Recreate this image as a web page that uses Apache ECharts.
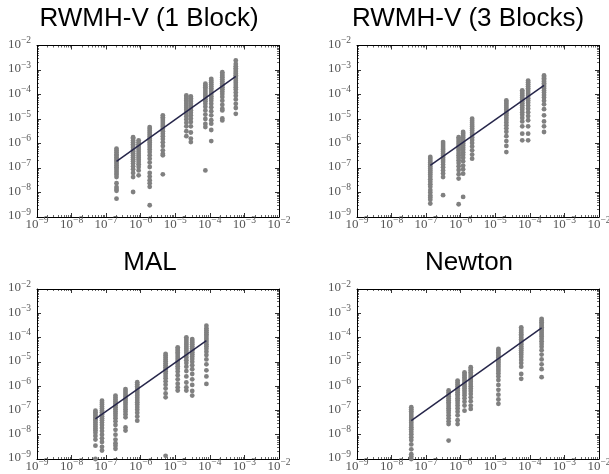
<!DOCTYPE html>
<html><head><meta charset="utf-8">
<script src="https://cdn.jsdelivr.net/npm/echarts@6/dist/echarts.min.js"></script>
<style>html,body{margin:0;padding:0;background:#fff}#c{width:609px;height:474px}</style>
</head><body><div id="c"></div>
<script>
// Panel titles
const titles = ['RWMH-V (1 Block)', 'RWMH-V (3 Blocks)', 'MAL', 'Newton'];
// Axis range (log10 exponents) and tick exponents
const axisMinExp = -9, axisMaxExp = -2;
const tickExps = [-9, -8, -7, -6, -5, -4, -3, -2];

// Values are stored as log10 exponents (x column positions, y values per column)
// Panel 1: RWMH-V (1 Block)
const p1ColX = [-6.70, -6.22, -6.06, -5.74, -5.36, -4.68, -4.55, -4.13, -3.96, -3.64, -3.25];
const p1ColY = [
  [-6.21,-6.29,-6.36,-6.44,-6.5,-6.57,-6.63,-6.7,-6.76,-6.83,-6.9,-6.97,-7.04,-7.12,-7.2,-7.28,-7.37,-7.62,-7.78,-7.86,-7.93,-8.25],
  [-5.74,-5.8,-5.88,-5.95,-6.03,-6.1,-6.17,-6.25,-6.32,-6.4,-6.48,-6.56,-6.64,-6.72,-6.82,-6.93,-7.05,-7.2,-7.37,-7.98],
  [-5.87,-5.95,-6.03,-6.1,-6.18,-6.26,-6.34,-6.42,-6.5,-6.58,-6.66,-6.75,-6.85,-6.96,-7.1,-7.3],
  [-5.33,-5.4,-5.48,-5.56,-5.64,-5.72,-5.8,-5.88,-5.96,-6.05,-6.14,-6.24,-6.35,-6.48,-6.62,-6.78,-6.96,-7.2,-7.35,-7.5,-7.62,-7.77,-8.52],
  [-4.85,-4.93,-5.0,-5.08,-5.16,-5.24,-5.32,-5.4,-5.5,-5.6,-5.7,-5.82,-5.95,-6.1,-6.28,-6.42,-6.48,-7.26],
  [-4.04,-4.1,-4.17,-4.24,-4.31,-4.38,-4.46,-4.54,-4.62,-4.7,-4.8,-4.9,-5.02,-5.15,-5.3,-5.5,-5.7],
  [-4.08,-4.15,-4.22,-4.3,-4.38,-4.46,-4.55,-4.64,-4.74,-4.85,-4.98,-5.12,-5.3,-5.55,-5.8,-5.94],
  [-3.56,-3.63,-3.7,-3.78,-3.86,-3.94,-4.02,-4.1,-4.19,-4.28,-4.38,-4.5,-4.65,-4.82,-5.0,-5.2,-5.33,-7.1],
  [-3.36,-3.43,-3.5,-3.58,-3.66,-3.74,-3.82,-3.9,-3.98,-4.07,-4.16,-4.26,-4.38,-4.52,-4.68,-4.85,-5.05,-5.19,-5.45,-5.9],
  [-3.09,-3.16,-3.23,-3.3,-3.38,-3.46,-3.54,-3.62,-3.7,-3.79,-3.88,-3.98,-4.1,-4.25,-4.42,-4.58,-4.65,-4.98,-5.06],
  [-2.61,-2.75,-2.85,-2.93,-3.0,-3.07,-3.14,-3.21,-3.28,-3.36,-3.44,-3.52,-3.61,-3.7,-3.8,-3.92,-4.05,-4.2,-4.38,-4.55,-4.79]
];
const p1FitX = [-6.70, -3.25];
const p1FitY = [-6.73, -3.26];

// Panel 2: RWMH-V (3 Blocks)
const p2ColX = [-6.88, -6.51, -6.06, -5.93, -5.67, -4.68, -4.22, -4.05, -3.59];
const p2ColY = [
  [-6.55,-6.62,-6.7,-6.78,-6.86,-6.94,-7.02,-7.1,-7.18,-7.27,-7.36,-7.46,-7.56,-7.66,-7.77,-7.9,-8.0,-8.12,-8.2,-8.3,-8.45],
  [-5.94,-6.02,-6.1,-6.18,-6.26,-6.34,-6.42,-6.5,-6.58,-6.67,-6.76,-6.86,-6.97,-7.1,-7.22,-7.37,-8.11],
  [-5.74,-5.82,-5.9,-5.98,-6.06,-6.14,-6.22,-6.3,-6.39,-6.48,-6.58,-6.68,-6.8,-6.93,-7.08,-7.25,-7.43,-8.48],
  [-5.53,-5.6,-5.68,-5.76,-5.84,-5.92,-6.0,-6.08,-6.17,-6.26,-6.36,-6.46,-6.58,-6.72,-6.9,-7.05,-7.23,-8.18],
  [-4.99,-5.07,-5.15,-5.23,-5.31,-5.39,-5.47,-5.56,-5.65,-5.75,-5.86,-5.98,-6.12,-6.28,-6.45,-6.62],
  [-4.24,-4.31,-4.38,-4.46,-4.54,-4.62,-4.7,-4.78,-4.86,-4.95,-5.04,-5.14,-5.25,-5.38,-5.52,-5.7,-5.9,-6.1,-6.35],
  [-3.83,-3.9,-3.97,-4.04,-4.12,-4.2,-4.28,-4.36,-4.44,-4.53,-4.62,-4.72,-4.83,-4.96,-5.1,-5.3,-5.6,-5.87],
  [-3.43,-3.5,-3.58,-3.66,-3.74,-3.82,-3.9,-3.98,-4.06,-4.15,-4.24,-4.34,-4.45,-4.58,-4.72,-4.88,-5.05,-5.3,-5.6,-5.87],
  [-3.22,-3.28,-3.34,-3.4,-3.47,-3.54,-3.61,-3.68,-3.76,-3.84,-3.92,-4.02,-4.12,-4.25,-4.4,-4.6,-4.85,-5.1,-5.3,-5.53]
];
const p2FitX = [-6.88, -3.59];
const p2FitY = [-6.89, -3.63];

// Panel 3: MAL
const p3ColX = [-7.31, -7.12, -6.73, -6.44, -6.10, -5.28, -4.93, -4.68, -4.51, -4.10];
const p3ColY = [
  [-7.01,-7.08,-7.15,-7.22,-7.29,-7.36,-7.43,-7.5,-7.58,-7.66,-7.74,-7.82,-7.92,-8.05,-8.2,-8.45,-9.0],
  [-6.6,-6.68,-6.76,-6.84,-6.92,-7.0,-7.08,-7.16,-7.24,-7.32,-7.4,-7.5,-7.6,-7.72,-7.85,-8.0,-8.15,-8.3,-8.5,-8.65],
  [-6.39,-6.47,-6.55,-6.63,-6.71,-6.79,-6.87,-6.95,-7.04,-7.13,-7.22,-7.32,-7.45,-7.6,-7.8,-8.0,-8.2,-8.35,-8.45,-8.58],
  [-6.12,-6.2,-6.28,-6.36,-6.44,-6.52,-6.6,-6.68,-6.77,-6.86,-6.95,-7.05,-7.16,-7.28,-7.7,-7.83],
  [-5.84,-5.92,-6.0,-6.08,-6.16,-6.24,-6.32,-6.4,-6.48,-6.57,-6.66,-6.76,-6.86,-6.97,-7.1,-7.25,-7.42],
  [-4.67,-4.74,-4.82,-4.9,-4.98,-5.06,-5.14,-5.22,-5.3,-5.39,-5.48,-5.58,-5.68,-5.8,-5.94,-6.1,-6.3,-6.46,-8.87],
  [-4.4,-4.47,-4.54,-4.61,-4.68,-4.76,-4.84,-4.92,-5.0,-5.09,-5.18,-5.28,-5.4,-5.55,-5.72,-5.9,-6.05,-6.18],
  [-3.99,-4.06,-4.14,-4.22,-4.3,-4.38,-4.46,-4.54,-4.63,-4.72,-4.82,-4.93,-5.05,-5.2,-5.38,-5.6,-5.85,-6.05,-6.18],
  [-4.06,-4.13,-4.2,-4.28,-4.36,-4.44,-4.52,-4.6,-4.69,-4.78,-4.88,-5.0,-5.14,-5.3,-5.5,-5.72,-5.95,-6.2,-6.39],
  [-3.51,-3.62,-3.7,-3.78,-3.86,-3.94,-4.02,-4.1,-4.18,-4.27,-4.36,-4.46,-4.58,-4.72,-4.9,-5.1,-5.35,-5.6,-5.91]
];
const p3FitX = [-7.31, -4.10];
const p3FitY = [-7.35, -4.13];

// Panel 4: Newton
const p4ColX = [-7.43, -6.35, -6.09, -5.89, -5.71, -4.91, -4.25, -3.66];
const p4ColY = [
  [-6.87,-6.95,-7.03,-7.11,-7.19,-7.27,-7.35,-7.43,-7.51,-7.6,-7.69,-7.78,-7.88,-7.98,-8.1,-8.22,-8.4,-8.6,-8.8,-8.9,-9.0],
  [-6.18,-6.26,-6.34,-6.42,-6.5,-6.58,-6.66,-6.74,-6.82,-6.91,-7.0,-7.1,-7.2,-7.32,-7.45,-7.56,-8.24],
  [-5.77,-5.85,-5.93,-6.01,-6.09,-6.17,-6.25,-6.33,-6.41,-6.5,-6.59,-6.69,-6.8,-6.92,-7.05,-7.2,-7.4,-7.56],
  [-5.43,-5.5,-5.57,-5.64,-5.71,-5.78,-5.86,-5.94,-6.02,-6.1,-6.19,-6.28,-6.38,-6.5,-6.64,-6.8,-7.01],
  [-5.22,-5.29,-5.36,-5.43,-5.5,-5.58,-5.66,-5.74,-5.82,-5.91,-6.0,-6.1,-6.2,-6.32,-6.46,-6.62,-6.8,-6.94],
  [-4.47,-4.54,-4.61,-4.68,-4.75,-4.82,-4.89,-4.96,-5.04,-5.12,-5.2,-5.29,-5.38,-5.48,-5.6,-5.75,-5.95,-6.15,-6.35,-6.55,-6.73],
  [-3.58,-3.65,-3.72,-3.79,-3.86,-3.93,-4.0,-4.07,-4.14,-4.21,-4.28,-4.36,-4.44,-4.52,-4.61,-4.7,-4.8,-4.92,-5.05,-5.2,-5.5,-5.7],
  [-3.23,-3.3,-3.37,-3.44,-3.51,-3.58,-3.65,-3.72,-3.8,-3.88,-3.96,-4.05,-4.15,-4.26,-4.38,-4.52,-4.7,-4.9,-5.1,-5.3,-5.63]
];
const p4FitX = [-7.43, -3.66];
const p4FitY = [-7.42, -3.60];

const panels = [
  {colX: p1ColX, colY: p1ColY, fitX: p1FitX, fitY: p1FitY},
  {colX: p2ColX, colY: p2ColY, fitX: p2FitX, fitY: p2FitY},
  {colX: p3ColX, colY: p3ColY, fitX: p3FitX, fitY: p3FitY},
  {colX: p4ColX, colY: p4ColY, fitX: p4FitX, fitY: p4FitY}
];

// Layout (pixels)
const gridRects = [
  {left: 37, top: 45.5, width: 242, height: 171.5},
  {left: 357, top: 45.5, width: 242, height: 171.5},
  {left: 37, top: 289, width: 242, height: 170},
  {left: 357, top: 289, width: 242, height: 170}
];
const titlePos = [[149, 6], [468, 6], [150, 250], [469, 250]];

const pow10 = e => Math.pow(10, e);
const labelColor = '#555';
const rich = {
  b: {fontFamily: 'Liberation Serif', fontSize: 13, color: labelColor, lineHeight: 18},
  s: {fontFamily: 'Liberation Serif', fontSize: 9.5, color: labelColor, lineHeight: 10, verticalAlign: 'top'}
};
function fmt(v) {
  const e = Math.round(Math.log10(v));
  return '{b|10}{s|' + (e < 0 ? '\u2212' + (-e) : e) + '}';
}

function axisBase(showLabel, pos, isX) {
  return {
    type: 'log', logBase: 10, min: pow10(axisMinExp), max: pow10(axisMaxExp), interval: 1,
    position: pos,
    axisLine: {show: true, onZero: false, lineStyle: {color: '#000', width: 1}},
    axisTick: {show: true, inside: true, length: 4, lineStyle: {color: '#000', width: 0.8}},
    minorTick: {show: true, splitNumber: 9, length: 2, lineStyle: {color: '#000', width: 0.6}},
    splitLine: {show: false},
    axisLabel: showLabel ? (isX
      ? {show: true, formatter: fmt, rich: rich, margin: -1.3}
      : {show: true, formatter: fmt, rich: rich, margin: 6, padding: [0, 0, 2, 0]})
      : {show: false}
  };
}

const option = {
  backgroundColor: '#fff',
  animation: false,
  title: titles.map((t, i) => ({
    text: t, left: titlePos[i][0], top: titlePos[i][1], textAlign: 'center', padding: 0,
    textStyle: {fontFamily: 'Liberation Sans', fontSize: 26, fontWeight: 'normal', color: '#000'}
  })),
  grid: gridRects.map(r => Object.assign({outerBoundsMode: 'none', containLabel: false}, r)),
  xAxis: [], yAxis: [], series: []
};

panels.forEach((p, i) => {
  option.xAxis.push(Object.assign(axisBase(true, 'bottom', true), {gridIndex: i}));
  option.xAxis.push(Object.assign(axisBase(false, 'top', true), {gridIndex: i}));
  option.yAxis.push(Object.assign(axisBase(true, 'left', false), {gridIndex: i}));
  option.yAxis.push(Object.assign(axisBase(false, 'right', false), {gridIndex: i}));
  const pts = [];
  p.colX.forEach((x, c) => p.colY[c].forEach(y => pts.push([pow10(x), pow10(y)])));
  option.series.push({
    type: 'scatter', xAxisIndex: 2 * i, yAxisIndex: 2 * i, data: pts,
    symbol: 'circle', symbolSize: 4.8, itemStyle: {color: '#808080', opacity: 1}, z: 2
  });
  option.series.push({
    type: 'line', xAxisIndex: 2 * i, yAxisIndex: 2 * i,
    data: p.fitX.map((x, k) => [pow10(x), pow10(p.fitY[k])]),
    symbol: 'none', lineStyle: {color: '#26264a', width: 1.5}, z: 3
  });
});

const chart = echarts.init(document.getElementById('c'), null, {renderer: 'canvas'});
chart.setOption(option);
</script>
</body></html>
